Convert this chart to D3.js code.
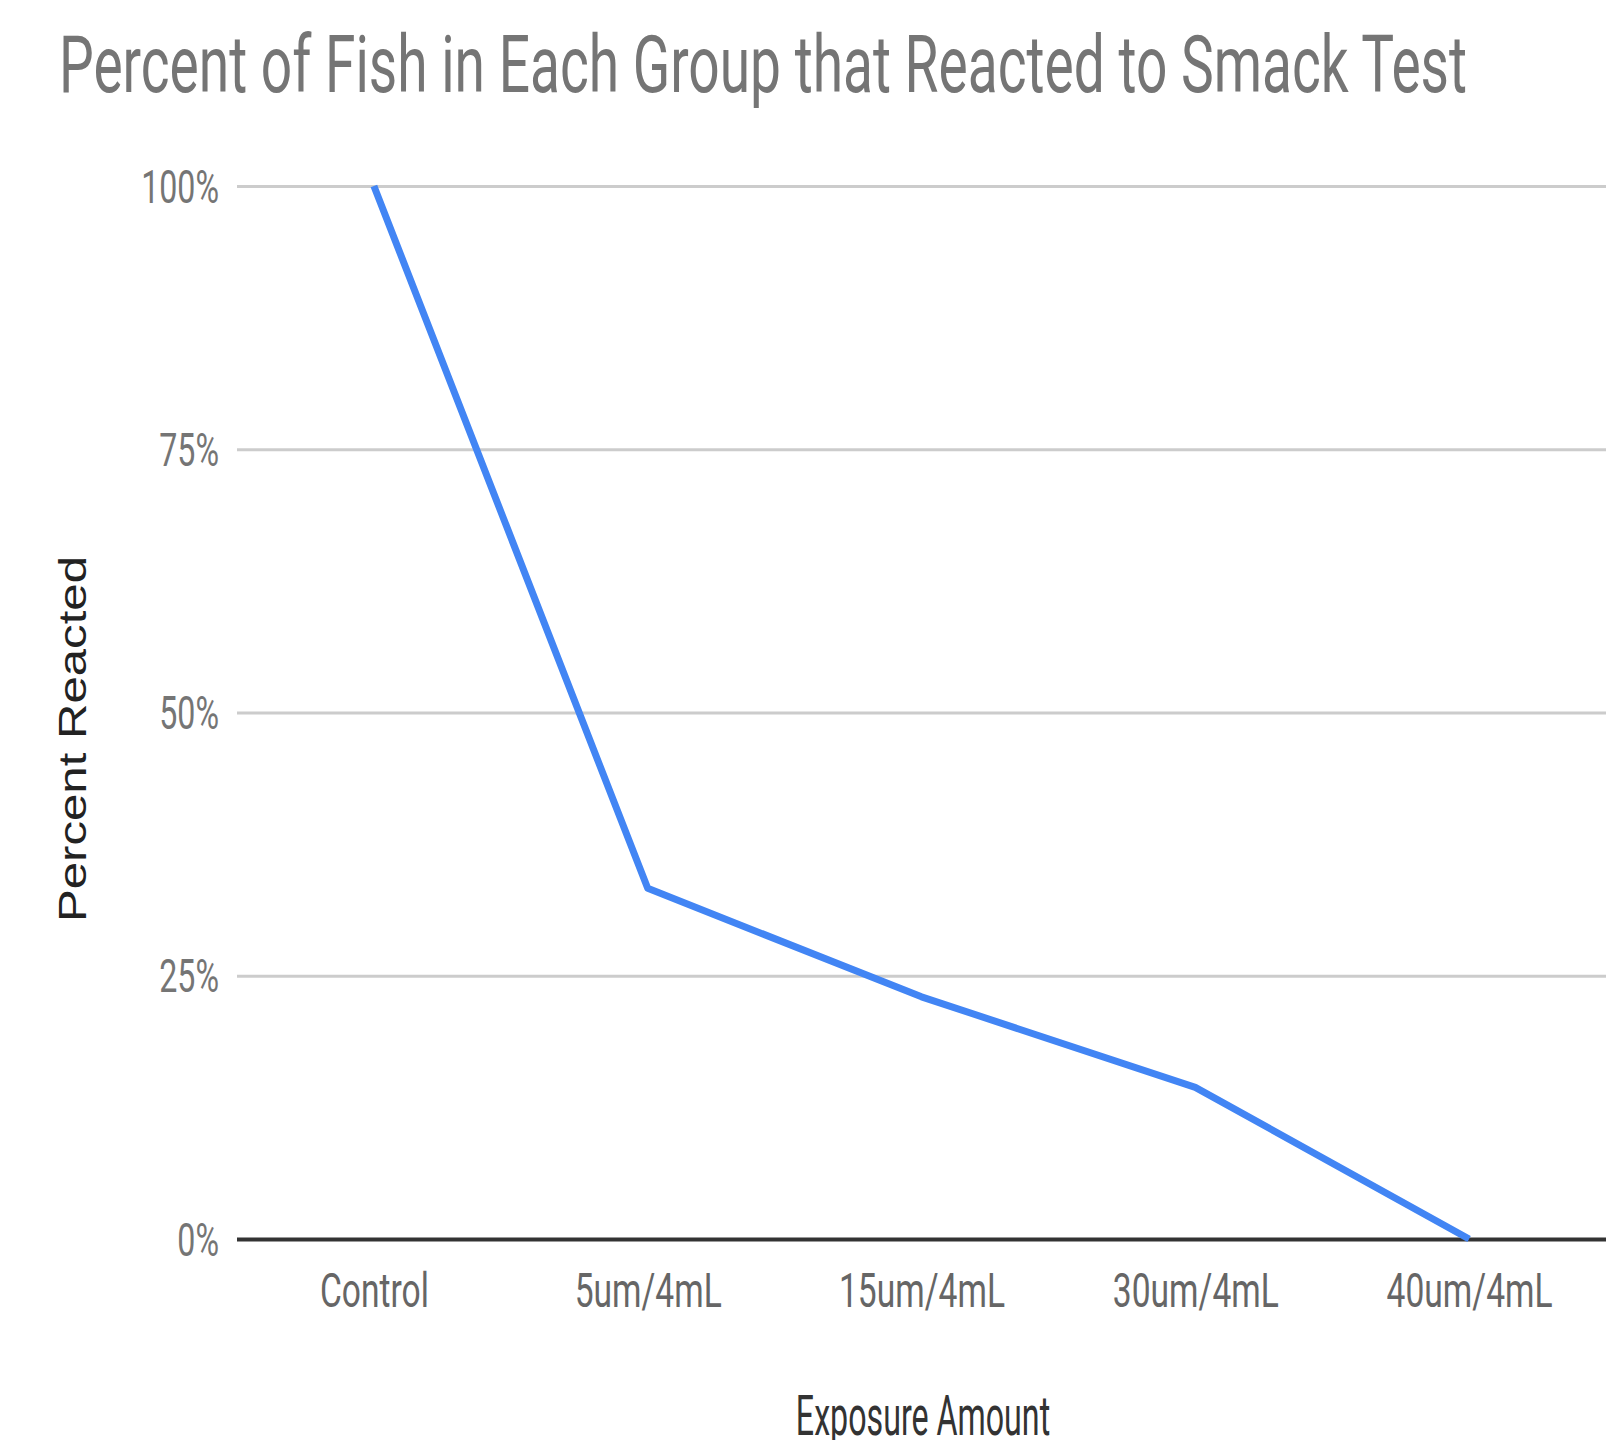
<!DOCTYPE html>
<html><head><meta charset="utf-8">
<script src="https://cdn.jsdelivr.net/npm/d3@7"></script>
<style>html,body{margin:0;padding:0;background:#fff;}svg{display:block;}</style>
</head><body>
<svg id="chart" width="1606" height="1440"></svg>
<script>
const categories = ["Control", "5um/4mL", "15um/4mL", "30um/4mL", "40um/4mL"];
const percentReacted = [100, 33.3, 23, 14.4, 0];
const yTicks = [0, 25, 50, 75, 100];
const titleText = "Percent of Fish in Each Group that Reacted to Smack Test";
const xTitle = "Exposure Amount";
const yTitle = "Percent Reacted";

(function () {
const svg = d3.select("#chart");
const W = 1606, H = 1440;
const pLeft = 237, pRight = 1606, pTop = 186, pBottom = 1239;
const SX = 0.7;

const x = d3.scalePoint().domain(categories).range([pLeft, pRight]).padding(0.5);
const y = d3.scaleLinear().domain([0, 100]).range([pBottom, pTop]);

svg.append("rect").attr("width", W).attr("height", H).attr("fill", "#fff");

// title
svg.append("text")
  .attr("x", 59).attr("y", 92)
  .attr("font-family", "Roboto").attr("font-size", 80)
  .attr("fill", "#757575")
  .attr("textLength", 1408).attr("lengthAdjust", "spacingAndGlyphs")
  .text(titleText);

// gridlines
const yAxis = d3.axisLeft(y).tickValues(yTicks).tickSize(-(pRight - pLeft)).tickFormat(d => d + "%");
const gy = svg.append("g").attr("transform", `translate(${pLeft},0)`).call(yAxis);
gy.select(".domain").remove();
gy.selectAll(".tick line").attr("stroke", d => d === 0 ? "#333" : "#cccccc").attr("stroke-width", d => d === 0 ? 4 : 3);
gy.selectAll(".tick text")
  .attr("font-family", "Roboto").attr("font-size", 46).attr("fill", "#757575")
  .attr("x", 0).attr("dy", null).attr("y", 0)
  .attr("transform", `translate(-18,16) scale(${SX},1)`)
  .attr("text-anchor", "end");

// x axis labels
const xAxis = d3.axisBottom(x).tickSize(0);
const gx = svg.append("g").attr("transform", `translate(0,${pBottom})`).call(xAxis);
gx.select(".domain").remove();
gx.selectAll(".tick text")
  .attr("font-family", "Roboto").attr("font-size", 48).attr("fill", "#666")
  .attr("y", 0).attr("dy", null)
  .attr("transform", `translate(0,68) scale(${SX},1)`)
  .attr("text-anchor", "middle");

// line
const line = d3.line().x((d, i) => x(categories[i])).y(d => y(d));
svg.append("path").datum(percentReacted)
  .attr("d", line).attr("fill", "none")
  .attr("stroke", "#4285F4").attr("stroke-width", 7)
  .attr("stroke-linejoin", "round");

// axis titles
svg.append("text")
  .attr("transform", "translate(923,1435) scale(0.575,1)")
  .attr("text-anchor", "middle")
  .attr("font-family", "Roboto").attr("font-size", 56).attr("fill", "#333")
  .text(xTitle);

svg.append("text")
  .attr("transform", "translate(86,739) rotate(-90)")
  .attr("text-anchor", "middle")
  .attr("font-family", "Liberation Sans, Arial").attr("font-size", 38).attr("fill", "#222")
  .attr("textLength", 366).attr("lengthAdjust", "spacingAndGlyphs")
  .text(yTitle);
})();
</script>
</body></html>
